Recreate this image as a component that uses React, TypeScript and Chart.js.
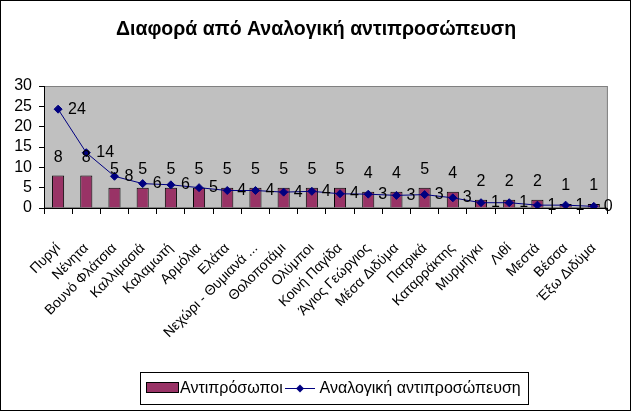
import React, { useEffect, useRef } from 'react';
import { Chart, registerables } from 'chart.js';

Chart.register(...registerables);

const chartTitle = 'Διαφορά από Αναλογική αντιπροσώπευση';
const barSeriesName = 'Αντιπρόσωποι';
const lineSeriesName = 'Αναλογική αντιπροσώπευση';

const categories = [
  'Πυργί',
  'Νένητα',
  'Βουνό Φλάτσια',
  'Καλλιμασιά',
  'Καλαμωτή',
  'Αρμόλια',
  'Ελάτα',
  'Νεχώρι - Θυμιανά ...',
  'Θολοποτάμι',
  'Ολύμποι',
  'Κοινή Παγίδα',
  'Άγιος Γεώργιος',
  'Μέσα Διδύμα',
  'Πατρικά',
  'Καταρράκτης',
  'Μυρμήγκι',
  'Λιθί',
  'Μεστά',
  'Βέσσα',
  'Έξω Διδύμα',
];

const representatives = [8, 8, 5, 5, 5, 5, 5, 5, 5, 5, 5, 4, 4, 5, 4, 2, 2, 2, 1, 1];

const proportional = [
  24.3, 13.6, 7.8, 6.0, 5.7, 5.0, 4.3, 4.3, 3.9, 4.1, 3.5, 3.4, 3.1, 3.3, 2.5, 1.3, 1.3, 0.7, 0.7, 0.4,
];

const yMin = 0;
const yMax = 30;
const yStep = 5;

const FONT = 'Arial, "Liberation Sans", sans-serif';
const BAR_COLOR = '#993366';
const LINE_COLOR = '#000080';

const decorPlugin = {
  id: 'decor',
  beforeDraw(chart: any) {
    const { ctx, chartArea: a } = chart;
    ctx.save();
    ctx.fillStyle = '#ffffff';
    ctx.fillRect(0, 0, chart.width, chart.height);
    ctx.fillStyle = '#c0c0c0';
    ctx.fillRect(a.left, a.top, a.right - a.left, a.bottom - a.top);
    ctx.strokeStyle = '#808080';
    ctx.lineWidth = 1;
    ctx.strokeRect(a.left + 0.5, a.top + 0.5, a.right - a.left - 1, a.bottom - a.top - 1);
    ctx.restore();
  },
  afterDatasetsDraw(chart: any) {
    const { ctx } = chart;
    ctx.save();
    ctx.fillStyle = '#000';
    ctx.font = `16px ${FONT}`;
    ctx.textBaseline = 'alphabetic';
    const barMeta = chart.getDatasetMeta(0);
    ctx.textAlign = 'center';
    barMeta.data.forEach((el: any, i: number) => {
      ctx.fillText(String(representatives[i]), el.x, el.y - 13.5);
    });
    const lineMeta = chart.getDatasetMeta(1);
    ctx.textAlign = 'left';
    lineMeta.data.forEach((el: any, i: number) => {
      ctx.fillText(String(Math.round(proportional[i])), el.x + 10, el.y + 4.5);
    });
    ctx.restore();
  },
  afterDraw(chart: any) {
    const { ctx } = chart;
    ctx.save();
    // outer border
    ctx.strokeStyle = '#000';
    ctx.lineWidth = 1;
    ctx.strokeRect(0.5, 0.5, 630, 410);
    // title
    ctx.fillStyle = '#000';
    ctx.font = `bold 19.5px ${FONT}`;
    ctx.textAlign = 'center';
    ctx.textBaseline = 'alphabetic';
    ctx.fillText(chartTitle, 316, 35);
    // legend
    ctx.fillStyle = '#fff';
    ctx.fillRect(140.5, 372.5, 388, 32);
    ctx.strokeStyle = '#000';
    ctx.strokeRect(140.5, 372.5, 388, 32);
    ctx.fillStyle = BAR_COLOR;
    ctx.fillRect(146.5, 382.5, 32, 10);
    ctx.strokeRect(146.5, 382.5, 32, 10);
    ctx.fillStyle = '#000';
    ctx.font = `16px ${FONT}`;
    ctx.textAlign = 'left';
    ctx.fillText(barSeriesName, 180, 393);
    ctx.strokeStyle = LINE_COLOR;
    ctx.beginPath();
    ctx.moveTo(285, 388.5);
    ctx.lineTo(315, 388.5);
    ctx.stroke();
    ctx.fillStyle = LINE_COLOR;
    ctx.beginPath();
    ctx.moveTo(300, 384.5);
    ctx.lineTo(304, 388.5);
    ctx.lineTo(300, 392.5);
    ctx.lineTo(296, 388.5);
    ctx.closePath();
    ctx.fill();
    ctx.fillStyle = '#000';
    ctx.font = `16px ${FONT}`;
    ctx.fillText(lineSeriesName, 319.5, 393);
    ctx.restore();
  },
};

export default function App() {
  const canvasRef = useRef<HTMLCanvasElement | null>(null);

  useEffect(() => {
    const canvas = canvasRef.current;
    if (!canvas) return;
    const chart = new Chart(canvas, {
      type: 'bar',
      data: {
        labels: categories,
        datasets: [
          {
            type: 'bar',
            label: barSeriesName,
            data: representatives,
            backgroundColor: BAR_COLOR,
            borderColor: '#000',
            borderWidth: 1,
            barPercentage: 0.43,
            categoryPercentage: 1,
            order: 2,
          },
          {
            type: 'line',
            label: lineSeriesName,
            data: proportional,
            borderColor: LINE_COLOR,
            borderWidth: 1,
            pointStyle: 'rectRot',
            pointRadius: 4,
            pointBackgroundColor: LINE_COLOR,
            pointBorderColor: LINE_COLOR,
            pointBorderWidth: 1,
            tension: 0,
            order: 1,
          },
        ],
      },
      options: {
        responsive: false,
        animation: false,
        devicePixelRatio: 1,
        layout: { padding: { top: 86, right: 13, bottom: 54, left: 0 } },
        plugins: {
          legend: { display: false },
          title: { display: false },
          tooltip: { enabled: false },
        },
        scales: {
          x: {
            type: 'category',
            offset: true,
            grid: {
              display: true,
              offset: true,
              drawOnChartArea: false,
              drawTicks: true,
              tickLength: 6,
              color: '#000',
              lineWidth: 1,
            },
            border: { display: true, color: '#000', width: 1 },
            ticks: {
              autoSkip: false,
              maxRotation: 45,
              minRotation: 45,
              padding: 26,
              labelOffset: 0,
              color: '#000',
              font: { family: FONT, size: 14 },
            },
            afterFit: (s: any) => {
              s.height = 150;
            },
          },
          y: {
            min: yMin,
            max: yMax,
            grid: {
              display: true,
              drawOnChartArea: false,
              drawTicks: true,
              tickLength: 5,
              color: '#000',
              lineWidth: 1,
            },
            border: { display: true, color: '#000', width: 1 },
            ticks: {
              stepSize: yStep,
              autoSkip: false,
              padding: 7,
              color: '#000',
              font: { family: FONT, size: 16 },
            },
            afterFit: (s: any) => {
              s.width = 44;
            },
          },
        },
      },
      plugins: [decorPlugin],
    });
    return () => chart.destroy();
  }, []);

  return (
    <div style={{ position: 'absolute', left: 0, top: 0, width: 632, height: 412, background: '#fff' }}>
      <canvas ref={canvasRef} width={632} height={412} style={{ width: 632, height: 412, display: 'block' }} />
    </div>
  );
}
